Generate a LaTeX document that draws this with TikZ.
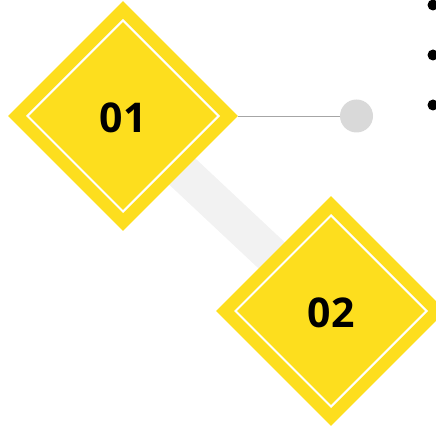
\documentclass[tikz,border=0pt]{standalone}
\usepackage{fontspec}
\setmainfont{Open Sans}
\definecolor{stepyellow}{RGB}{253, 222, 30}
\definecolor{bandgray}{RGB}{242, 242, 242}
\definecolor{dotgray}{RGB}{217, 217, 217}
\definecolor{linegray}{RGB}{166, 166, 166}
\usetikzlibrary{shapes.geometric, positioning}
\tikzset{
    outerdiamond/.style={diamond, aspect=1, fill=stepyellow, inner sep=0pt,
        minimum size=230pt},
    innerdiamond/.style={diamond, aspect=1, draw=white, line width=2pt,
        inner sep=0pt, minimum size=192pt,
        font=\fontsize{41}{41}\selectfont\bfseries},
    bulletdot/.style={circle, fill=black, inner sep=0pt, minimum size=11pt},
}

\begin{document}
\begin{tikzpicture}[x=1pt, y=-1pt]
            \useasboundingbox (0, 0) rectangle (436, 427);
            \coordinate (c1) at (123, 116);
            \coordinate (c2) at (331, 311);
            \draw[bandgray, line width=37pt] (c1) -- (c2);
            \node[outerdiamond] (one) at (c1) {};
            \node[innerdiamond] (oneinner) at (c1)
                {\raisebox{-2pt}[\height][0pt]{01}};
            \node[outerdiamond] (two) at (c2) {};
            \node[innerdiamond] (twoinner) at (c2)
                {\raisebox{-2pt}[\height][0pt]{02}};
            \node[circle, fill=dotgray, inner sep=0pt, minimum size=33pt]
                (dot) at (356.5, 116) {};
            \draw[linegray, line width=0.8pt] (one.east) -- (dot.west);
            \foreach \y/\name in {5/b1, 55/b2, 105/b3}
                \node[bulletdot] (\name) at (433, \y) {};
        \end{tikzpicture}
\end{document}
